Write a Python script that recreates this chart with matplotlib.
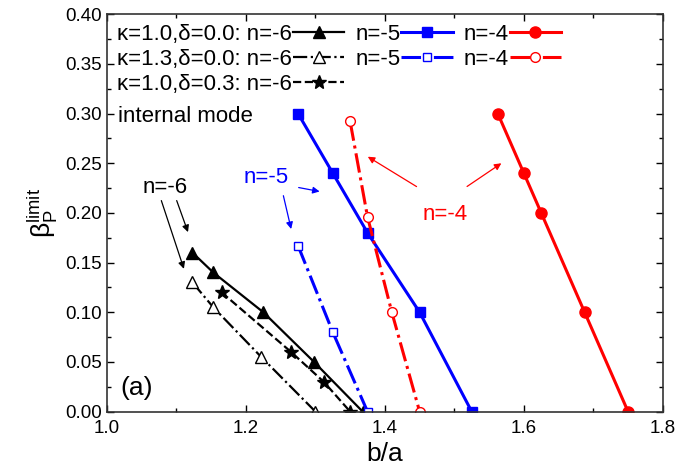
import matplotlib
matplotlib.use('Agg')
import matplotlib.pyplot as plt
from matplotlib.ticker import MultipleLocator
from matplotlib.lines import Line2D

plt.rcParams['font.family'] = ['Liberation Sans', 'DejaVu Sans']
plt.rcParams['mathtext.fontset'] = 'custom'
plt.rcParams['mathtext.rm'] = 'Liberation Sans'
plt.rcParams['mathtext.it'] = 'Liberation Sans:italic'

# kappa=1.0, delta=0.0
k10_n6_x = [1.123, 1.153, 1.225, 1.298, 1.368]
k10_n6_y = [0.160, 0.140, 0.100, 0.050, 0.000]
k10_n5_x = [1.275, 1.325, 1.375, 1.450, 1.525]
k10_n5_y = [0.300, 0.240, 0.180, 0.100, 0.000]
k10_n4_x = [1.5625, 1.600, 1.625, 1.6875, 1.750]
k10_n4_y = [0.300, 0.240, 0.200, 0.100, 0.000]
# kappa=1.3, delta=0.0
k13_n6_x = [1.123, 1.153, 1.222, 1.300]
k13_n6_y = [0.130, 0.105, 0.055, 0.000]
k13_n5_x = [1.275, 1.325, 1.375]
k13_n5_y = [0.167, 0.080, 0.000]
k13_n4_x = [1.350, 1.375, 1.410, 1.450]
k13_n4_y = [0.292, 0.196, 0.100, 0.000]
# kappa=1.0, delta=0.3
d03_n6_x = [1.165, 1.265, 1.312, 1.350]
d03_n6_y = [0.120, 0.060, 0.030, 0.000]

fig = plt.figure(figsize=(6.77, 4.72), dpi=100)
ax = fig.add_axes([0.158, 0.128, 0.821, 0.842])

blue = '#0000ff'
red = '#ff0000'
fs = 16

l1, = ax.plot(k10_n6_x, k10_n6_y, '-', color='black', lw=1.6, marker='^', ms=8)
l2, = ax.plot(k13_n6_x, k13_n6_y, '-.', color='black', lw=1.6, marker='^', ms=8,
              mfc='white', mew=1.0)
l3, = ax.plot(d03_n6_x, d03_n6_y, '--', color='black', lw=1.6, marker='*', ms=10)
l4, = ax.plot(k10_n5_x, k10_n5_y, '-', color=blue, lw=2.2, marker='s', ms=7)
l5, = ax.plot(k13_n5_x, k13_n5_y, '-.', color=blue, lw=2.2, marker='s', ms=6,
              mfc='white', mew=1.0)
l6, = ax.plot(k10_n4_x, k10_n4_y, '-', color=red, lw=2.2, marker='o', ms=8)
l7, = ax.plot(k13_n4_x, k13_n4_y, '-.', color=red, lw=2.2, marker='o', ms=7,
              mfc='white', mew=1.0)

blank = Line2D([], [], color='none')
handles = [l1, l2, l3, l4, l5, blank, l6, l7, blank]
labels = ['κ=1.0,δ=0.0: n=-6', 'κ=1.3,δ=0.0: n=-6', 'κ=1.0,δ=0.3: n=-6',
          'n=-5', 'n=-5', '', 'n=-4', 'n=-4', '']
ax.legend(handles, labels, ncol=3, markerfirst=False, frameon=False,
          loc='upper left', bbox_to_anchor=(0.0, 1.0), fontsize=fs,
          handlelength=2.3, handletextpad=0.05, columnspacing=0.5,
          labelspacing=0.17, borderaxespad=0.2, borderpad=0.25)
ax.text(1.016, 0.2965, 'internal mode', fontsize=fs, va='center', ha='left')

# annotations
ax.text(1.083, 0.226, 'n=-6', fontsize=fs, ha='center', va='center')
ax.annotate('', xy=(1.112, 0.141), xytext=(1.077, 0.215),
            arrowprops=dict(arrowstyle='-|>', color='black', lw=0.9, mutation_scale=10))
ax.annotate('', xy=(1.118, 0.178), xytext=(1.099, 0.215),
            arrowprops=dict(arrowstyle='-|>', color='black', lw=0.9, mutation_scale=10))

ax.text(1.229, 0.236, 'n=-5', fontsize=fs, ha='center', va='center', color=blue)
ax.annotate('', xy=(1.310, 0.221), xytext=(1.272, 0.226),
            arrowprops=dict(arrowstyle='-|>', color=blue, lw=0.9, mutation_scale=10))
ax.annotate('', xy=(1.266, 0.181), xytext=(1.253, 0.220),
            arrowprops=dict(arrowstyle='-|>', color=blue, lw=0.9, mutation_scale=10))

ax.text(1.487, 0.198, 'n=-4', fontsize=fs, ha='center', va='center', color=red)
ax.annotate('', xy=(1.372, 0.258), xytext=(1.449, 0.225),
            arrowprops=dict(arrowstyle='-|>', color=red, lw=0.9, mutation_scale=10))
ax.annotate('', xy=(1.571, 0.2515), xytext=(1.515, 0.225),
            arrowprops=dict(arrowstyle='-|>', color=red, lw=0.9, mutation_scale=10))

ax.text(1.0425, 0.024, '(a)', fontsize=19, ha='center', va='center')

ax.set_xlim(1.0, 1.8)
ax.set_ylim(0.0, 0.40)
ax.xaxis.set_major_locator(MultipleLocator(0.2))
ax.xaxis.set_minor_locator(MultipleLocator(0.1))
ax.yaxis.set_major_locator(MultipleLocator(0.05))
ax.yaxis.set_minor_locator(MultipleLocator(0.025))
ax.xaxis.set_major_formatter(plt.FormatStrFormatter('%.1f'))
ax.yaxis.set_major_formatter(plt.FormatStrFormatter('%.2f'))
ax.tick_params(which='both', direction='in', top=True, right=True, labelsize=13.5)
ax.tick_params(axis='x', pad=6)
ax.tick_params(which='major', length=5, width=1)
ax.tick_params(which='minor', length=3, width=1)
for s in ax.spines.values():
    s.set_linewidth(1.2)
    s.set_color('#333333')

ax.set_xlabel('b/a', fontsize=19, labelpad=4)
ax.set_ylabel(r'$\mathrm{β}_{\rm P}^{\rm limit}$', fontsize=19, labelpad=4)

fig.savefig('out.png', dpi=100)
